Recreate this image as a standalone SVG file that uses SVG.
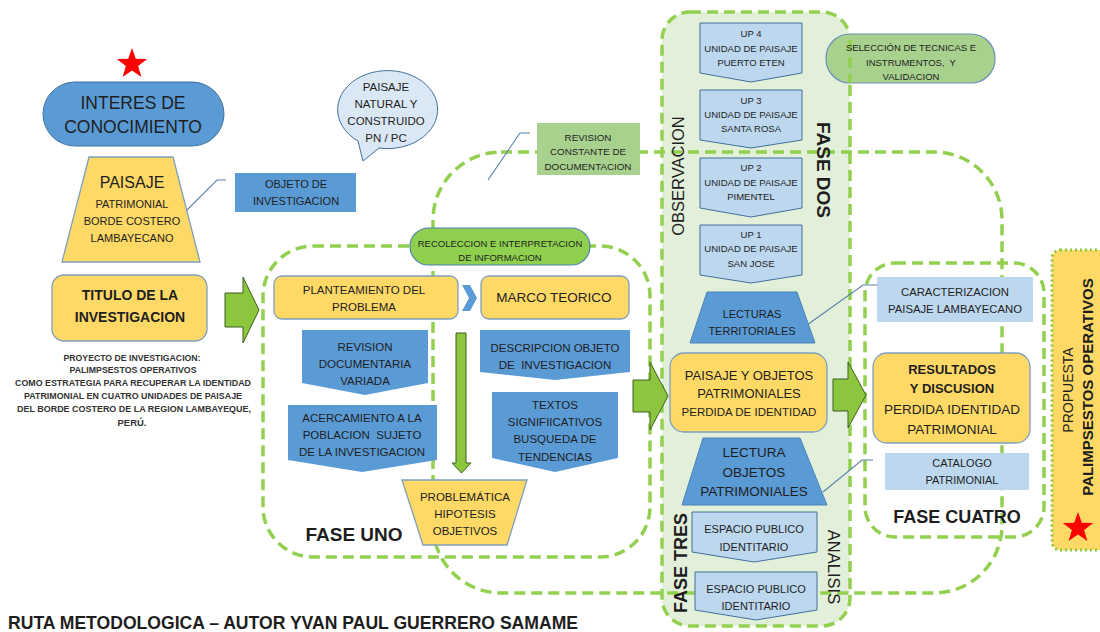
<svg xmlns="http://www.w3.org/2000/svg" width="1100" height="632" viewBox="0 0 1100 632">
<style>
text{font-family:"Liberation Sans",Arial,sans-serif;fill:#1e1e1e;text-anchor:middle;white-space:pre}
.frame{fill:none;stroke:#92d050;stroke-width:3.5;stroke-dasharray:11 6}
.blue{fill:#5b9bd5;stroke:#4a82b8;stroke-width:1}
.yel{fill:#ffd966;stroke:#7f9fbf;stroke-width:1.3}
.lb{fill:#bdd7ee;stroke:#41719c;stroke-width:1}
.lbr{fill:#bdd7ee}
.lg{fill:#a9d18e}
.garrow{fill:#8cc63f;stroke:#3d5f1f;stroke-width:1}
.call{fill:none;stroke:#5b80a8;stroke-width:1.1}
.b{font-weight:bold}
.t95{font-size:9.5px}
.t11{font-size:11px}
.t115{font-size:11.5px}
.t13{font-size:13px}
.par{font-size:9.5px;font-weight:bold;fill:#333}
</style>
<defs>
<path id="star" d="M0,-16 L3.8,-5.2 L15.2,-4.9 L6.1,2 L9.4,13 L0,6.5 L-9.4,13 L-6.1,2 L-15.2,-4.9 L-3.8,-5.2 Z" fill="#ff0000"/>
</defs>
<rect width="1100" height="632" fill="#ffffff"/>

<g id="frames">
<rect id="fase-dos-tres" x="662" y="12" width="188" height="614" rx="28" fill="#e2efd9" stroke="#92d050" stroke-width="3.5" stroke-dasharray="11 6"/>
<rect id="fase-uno-frame" class="frame" x="263" y="246" width="387" height="311" rx="50"/>
<rect id="revision-frame" class="frame" x="433" y="152" width="569" height="441" rx="68"/>
<rect id="fase-cuatro-frame" class="frame" x="865" y="263" width="179" height="274" rx="30"/>
<rect id="propuesta-frame" x="1052" y="250" width="60" height="300" rx="8" fill="#ffd966" stroke="#8cc63f" stroke-width="3" stroke-dasharray="2 3"/>
</g>

<g id="connectors">
<polygon class="garrow" points="225,293 243,293 243,277 259,310 243,343 243,327 225,327"/>
<polygon class="garrow" points="633,380 650,380 650,362 668,396 650,430 650,412 633,412"/>
<polygon class="garrow" points="833,379 848,379 848,362 866,395 848,428 848,411 833,411"/>
<polygon class="garrow" points="456,333 466,333 466,463 471,463 461.5,473 452,463 456,463"/>
<path d="M462,285 L470,285 L477,298 L470,311 L462,311 L469,298 Z" fill="#5b9bd5"/>
<polyline class="call" points="180,217 217,180 226,180"/>
<polyline class="call" points="488,180 520,133 530,133"/>
<polyline class="call" points="807,325 863,285 877,285"/>
<polyline class="call" points="823,492 862,460 873,460"/>
</g>

<g id="star-top"><use href="#star" x="132" y="64"/></g>

<g id="interes">
<rect x="43" y="82" width="181" height="64" rx="32" fill="#5b9bd5" stroke="#41719c" stroke-width="1"/>
<text x="133" y="109" font-size="17.5px">INTERES DE</text>
<text x="133" y="133" font-size="17.5px">CONOCIMIENTO</text>
</g>

<g id="paisaje">
<polygon class="yel" points="89,157 173,157 200,262 62,262"/>
<text x="132" y="188" font-size="16px">PAISAJE</text>
<text x="132" y="208" class="t11">PATRIMONIAL</text>
<text x="132" y="225" class="t11">BORDE COSTERO</text>
<text x="132" y="242" class="t11">LAMBAYECANO</text>
</g>

<g id="objeto">
<rect x="235" y="173" width="121" height="39" fill="#5b9bd5"/>
<text x="296" y="188" class="t11">OBJETO DE</text>
<text x="296" y="205" class="t11">INVESTIGACION</text>
</g>

<g id="bubble">
<path d="M358,141 A50,39 0 1 1 379,148 L363,161 Z" fill="#dae8f5" stroke="#41719c" stroke-width="1"/>
<text x="386" y="91" class="t115">PAISAJE</text>
<text x="386" y="108" class="t115">NATURAL Y</text>
<text x="386" y="125" class="t115">CONSTRUIDO</text>
<text x="386" y="142" class="t115">PN / PC</text>
</g>

<g id="revision-constante">
<rect class="lg" x="537" y="123" width="103" height="52"/>
<text x="588" y="140.5" font-size="9.8px">REVISION</text>
<text x="588" y="155" font-size="9.8px">CONSTANTE DE</text>
<text x="588" y="169.5" font-size="9.8px">DOCUMENTACION</text>
</g>

<g id="seleccion">
<rect x="826" y="34" width="169" height="49" rx="24" fill="#a9d18e" stroke="#6b8fb8" stroke-width="1.2"/>
<path d="M850,40 L850,83" fill="none" stroke="#92d050" stroke-width="3.5" stroke-dasharray="11 6"/>
<text x="911" y="51" class="t95">SELECCIÓN DE TECNICAS E</text>
<text x="911" y="65.5" class="t95">INSTRUMENTOS,  Y</text>
<text x="911" y="80" class="t95">VALIDACION</text>
</g>

<g id="titulo">
<rect class="yel" x="52" y="275" width="155" height="66" rx="12"/>
<text x="130" y="300" font-size="14px" class="b">TITULO DE LA</text>
<text x="130" y="322" font-size="14px" class="b">INVESTIGACION</text>
</g>

<g id="proyecto">
<text x="132" y="361" class="par" textLength="137" lengthAdjust="spacingAndGlyphs">PROYECTO DE INVESTIGACION:</text>
<text x="133" y="373" class="par" textLength="127" lengthAdjust="spacingAndGlyphs">PALIMPSESTOS OPERATIVOS</text>
<text x="133" y="386" class="par" textLength="236" lengthAdjust="spacingAndGlyphs">COMO ESTRATEGIA PARA RECUPERAR LA IDENTIDAD</text>
<text x="133" y="399" class="par" textLength="218" lengthAdjust="spacingAndGlyphs">PATRIMONIAL EN CUATRO UNIDADES DE PAISAJE</text>
<text x="134" y="412" class="par" textLength="234" lengthAdjust="spacingAndGlyphs">DEL BORDE COSTERO DE LA REGION LAMBAYEQUE,</text>
<text x="132" y="426" class="par" textLength="29" lengthAdjust="spacingAndGlyphs">PERÚ.</text>
</g>

<g id="recoleccion">
<rect x="410" y="228" width="180" height="37" rx="18.5" fill="#8fd14f" stroke="#4f7fb0" stroke-width="1.2"/>
<text x="500" y="247" class="t95">RECOLECCION E INTERPRETACION</text>
<text x="500" y="261" class="t95">DE INFORMACION</text>
</g>

<g id="planteamiento">
<rect class="yel" x="274" y="276" width="184" height="43" rx="8"/>
<text x="364" y="294" class="t115">PLANTEAMIENTO DEL</text>
<text x="364" y="311" class="t115">PROBLEMA</text>
</g>

<g id="marco">
<rect class="yel" x="481" y="276" width="148" height="43" rx="8"/>
<text x="554" y="302" font-size="13.5px">MARCO TEORICO</text>
</g>

<g id="revision-doc">
<path fill="#5b9bd5" d="M302,330 L428,330 L428,383 L365,395 L302,383 Z"/>
<text x="365" y="351" class="t115">REVISION</text>
<text x="365" y="368" class="t115">DOCUMENTARIA</text>
<text x="365" y="385" class="t115">VARIADA</text>
</g>

<g id="acercamiento">
<path fill="#5b9bd5" d="M288,405 L437,405 L437,460 L362,472 L288,460 Z"/>
<text x="362" y="422" class="t115">ACERCAMIENTO A LA</text>
<text x="362" y="439" class="t115">POBLACION  SUJETO</text>
<text x="362" y="456" class="t115">DE LA INVESTIGACION</text>
</g>

<g id="descripcion">
<path fill="#5b9bd5" d="M480,330 L630,330 L630,372 L555,380 L480,372 Z"/>
<text x="555" y="352" class="t115">DESCRIPCION OBJETO</text>
<text x="555" y="369" class="t115">DE  INVESTIGACION</text>
</g>

<g id="textos">
<path fill="#5b9bd5" d="M492,392 L618,392 L618,458 L555,472 L492,458 Z"/>
<text x="555" y="409" class="t115">TEXTOS</text>
<text x="555" y="426" class="t115">SIGNIFIICATIVOS</text>
<text x="555" y="443" class="t115">BUSQUEDA DE</text>
<text x="555" y="461" class="t115">TENDENCIAS</text>
</g>

<g id="problematica">
<polygon class="yel" points="402,480 527,480 507,545 423,545"/>
<text x="465" y="501" class="t115">PROBLEMÁTICA</text>
<text x="465" y="518" class="t115">HIPOTESIS</text>
<text x="465" y="535" class="t115">OBJETIVOS</text>
</g>

<g id="fase-uno-label"><text x="354" y="541" font-size="19px" class="b">FASE UNO</text></g>

<g id="up4">
<path class="lb" d="M700,23 L802,23 L802,73 L751,82 L700,73 Z"/>
<text x="751" y="37" class="t95">UP 4</text>
<text x="751" y="51.5" class="t95">UNIDAD DE PAISAJE</text>
<text x="751" y="66" class="t95">PUERTO ETEN</text>
</g>
<g id="up3">
<path class="lb" d="M700,90 L802,90 L802,140 L751,148 L700,140 Z"/>
<text x="751" y="104" class="t95">UP 3</text>
<text x="751" y="118" class="t95">UNIDAD DE PAISAJE</text>
<text x="751" y="132" class="t95">SANTA ROSA</text>
</g>
<g id="up2">
<path class="lb" d="M700,158 L802,158 L802,208 L751,217 L700,208 Z"/>
<text x="751" y="171" class="t95">UP 2</text>
<text x="751" y="186" class="t95">UNIDAD DE PAISAJE</text>
<text x="751" y="200" class="t95">PIMENTEL</text>
</g>
<g id="up1">
<path class="lb" d="M700,225 L802,225 L802,275 L751,283 L700,275 Z"/>
<text x="751" y="238" class="t95">UP 1</text>
<text x="751" y="252" class="t95">UNIDAD DE PAISAJE</text>
<text x="751" y="267" class="t95">SAN JOSE</text>
</g>

<g id="observacion-label"><text transform="translate(684,176) rotate(-90)" font-size="16.5px">OBSERVACION</text></g>
<g id="fase-dos-label"><text transform="translate(817,170) rotate(90)" font-size="19px" class="b">FASE DOS</text></g>

<g id="lecturas-territoriales">
<polygon class="blue" points="707,292 797,292 815,343 690,343"/>
<text x="752" y="318" class="t11">LECTURAS</text>
<text x="752" y="335" class="t11">TERRITORIALES</text>
</g>

<g id="paisaje-objetos">
<rect class="yel" x="670" y="353" width="157" height="79" rx="14"/>
<text x="749" y="380" class="t13">PAISAJE Y OBJETOS</text>
<text x="749" y="398" class="t13">PATRIMONIALES</text>
<text x="749" y="416" class="t115">PERDIDA DE IDENTIDAD</text>
</g>

<g id="lectura-objetos">
<polygon class="blue" points="703,438 800,438 827,505 682,505"/>
<text x="754" y="457" font-size="13.5px">LECTURA</text>
<text x="754" y="477" font-size="13.5px">OBJETOS</text>
<text x="754" y="496" font-size="13.5px">PATRIMONIALES</text>
</g>

<g id="espacio1">
<path class="lb" d="M692,512 L817,512 L817,552 L754,562 L692,552 Z"/>
<text x="754" y="533" class="t11">ESPACIO PUBLICO</text>
<text x="754" y="551" class="t11">IDENTITARIO</text>
</g>
<g id="espacio2">
<path class="lb" d="M695,572 L817,572 L817,610 L756,620 L695,610 Z"/>
<text x="756" y="593" class="t11">ESPACIO PUBLICO</text>
<text x="756" y="610" class="t11">IDENTITARIO</text>
</g>

<g id="fase-tres-label"><text transform="translate(687,563) rotate(-90)" font-size="18px" class="b">FASE TRES</text></g>
<g id="analisis-label"><text transform="translate(828,567) rotate(90)" font-size="16.5px">ANALISIS</text></g>

<g id="caracterizacion">
<rect class="lbr" x="877" y="277" width="156" height="45"/>
<text x="955" y="296" font-size="11.3px">CARACTERIZACION</text>
<text x="955" y="313" font-size="11.3px">PAISAJE LAMBAYECANO</text>
</g>

<g id="resultados">
<rect class="yel" x="873" y="353" width="157" height="90" rx="14"/>
<text x="952" y="374" class="t13 b">RESULTADOS</text>
<text x="952" y="393" class="t13 b">Y DISCUSION</text>
<text x="952" y="414" font-size="13.5px">PERDIDA IDENTIDAD</text>
<text x="952" y="434" font-size="13.5px">PATRIMONIAL</text>
</g>

<g id="catalogo">
<rect class="lbr" x="885" y="453" width="144" height="37"/>
<text x="962" y="467" class="t11">CATALOGO</text>
<text x="962" y="484" class="t11">PATRIMONIAL</text>
</g>

<g id="fase-cuatro-label"><text x="957" y="523" font-size="18px" class="b">FASE CUATRO</text></g>

<g id="propuesta">
<text transform="translate(1073,390) rotate(-90)" font-size="14px">PROPUESTA</text>
<text transform="translate(1093,387) rotate(-90)" font-size="15px" class="b">PALIMPSESTOS OPERATIVOS</text>
<use href="#star" x="1078" y="528"/>
</g>

<g id="title"><text x="8" y="629" font-size="18px" class="b" style="text-anchor:start" textLength="570" lengthAdjust="spacingAndGlyphs">RUTA METODOLOGICA – AUTOR YVAN PAUL GUERRERO SAMAME</text></g>
</svg>
